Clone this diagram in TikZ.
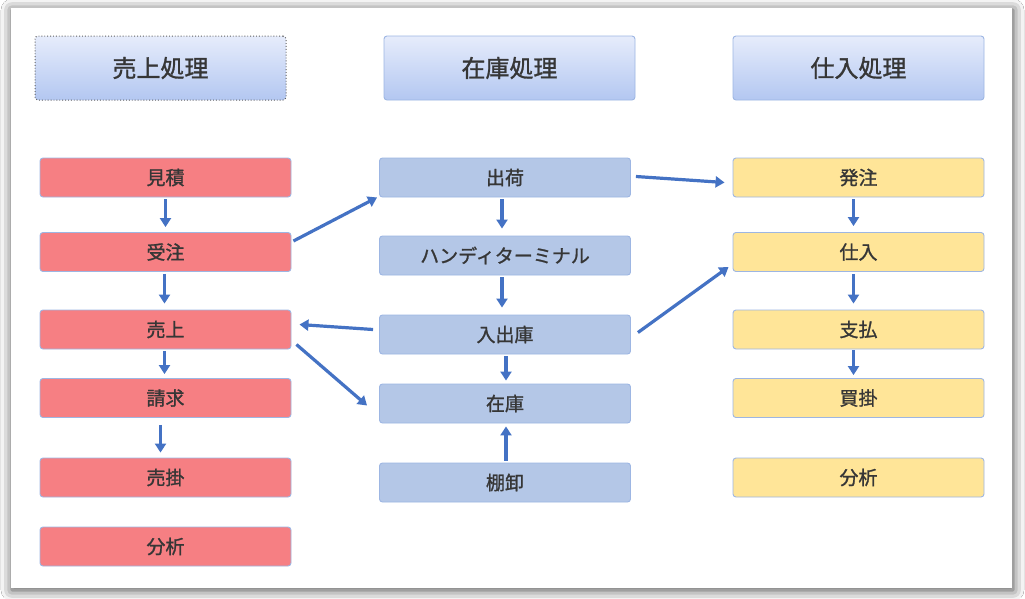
\documentclass[tikz,border=0pt]{standalone}
\usepackage{fontspec}
\setmainfont{Noto Sans CJK JP}[FakeBold=1.2]
\usetikzlibrary{arrows.meta,calc,shadows.blur}
\definecolor{redf}{HTML}{F67F83}
\definecolor{bluef}{HTML}{B4C7E7}
\definecolor{yelf}{HTML}{FFE598}
\definecolor{edge}{HTML}{9DB6E3}
\definecolor{arr}{HTML}{4472C4}
\definecolor{txt}{HTML}{363636}
\definecolor{htop}{HTML}{E6ECFB}
\definecolor{hbot}{HTML}{B3C7F1}
\tikzset{
  box/.style={draw=edge, line width=0.9pt, rounded corners=3pt, minimum width=251pt, minimum height=39pt, inner sep=0pt, text=txt, font=\fontsize{19}{21}\selectfont},
  rbox/.style={box, fill=redf},
  bbox/.style={box, fill=bluef},
  ybox/.style={box, fill=yelf},
  hbox/.style={box, minimum height=64pt, top color=htop, bottom color=hbot, font=\fontsize{24}{26}\selectfont},
  arrw/.style={draw=arr, line width=3.2pt, -{Triangle[length=9pt,width=11pt]}},
}
\begin{document}
\begin{tikzpicture}[x=1pt,y=-1pt]
\useasboundingbox (0,0) rectangle (1025,598);
\fill[white] (0,0) rectangle (1025,598);
\node[fill=white, minimum width=1001pt, minimum height=580pt, inner sep=0pt,
  blur shadow={shadow xshift=1pt, shadow yshift=-2pt, shadow blur radius=11pt, shadow opacity=75}] (panel) at (511.5,298) {};
% headers
\node[hbox, draw=txt!80, dotted, line width=1pt] (h1) at (160.5,68) {売上処理};
\node[hbox] (h2) at (509.5,68) {在庫処理};
\node[hbox] (h3) at (858.5,68) {仕入処理};
% left
\node[rbox] (mitsumori) at (165.5,177.5) {見積};
\node[rbox] (juchu) at (165.5,252) {受注};
\node[rbox] (uriage) at (165.5,329.5) {売上};
\node[rbox] (seikyu) at (165.5,398) {請求};
\node[rbox] (urikake) at (165.5,477.5) {売掛};
\node[rbox] (bunseki1) at (165.5,546.5) {分析};
% middle
\node[bbox] (shukka) at (505,177.5) {出荷};
\node[bbox] (handy) at (505,255.5) {ハンディターミナル};
\node[bbox] (nyushukko) at (505,334.5) {入出庫};
\node[bbox] (zaiko) at (505,403.5) {在庫};
\node[bbox] (tanaoroshi) at (505,482.5) {棚卸};
% right
\node[ybox] (hacchu) at (858.5,177.5) {発注};
\node[ybox] (shiire) at (858.5,252) {仕入};
\node[ybox] (shiharai) at (858.5,329.5) {支払};
\node[ybox] (kaikake) at (858.5,398) {買掛};
\node[ybox] (bunseki2) at (858.5,477.5) {分析};
% arrows left column
\draw[arrw] ($(mitsumori.south)+(0,2)$) -- ($(juchu.north)+(0,-5)$);
\draw[arrw] ($(juchu.south)+(-1,2)$) -- ($(uriage.north)+(-1,-6)$);
\draw[arrw] ($(uriage.south)+(-1,2)$) -- ($(seikyu.north)+(-1,-4)$);
\draw[arrw] ($(seikyu.south)+(-5,7)$) -- ($(urikake.north)+(-5,-5)$);
% middle column
\draw[arrw] ($(shukka.south)+(-3,2)$) -- ($(handy.north)+(-3,-7)$);
\draw[arrw] ($(handy.south)+(-3,2)$) -- ($(nyushukko.north)+(-3,-7)$);
\draw[arrw] ($(nyushukko.south)+(1,2)$) -- ($(zaiko.north)+(1,-3)$);
\draw[arrw] ($(tanaoroshi.north)+(1,-2)$) -- ($(zaiko.south)+(1,3)$);
% right column
\draw[arrw] ($(hacchu.south)+(-5,2)$) -- ($(shiire.north)+(-5,-6)$);
\draw[arrw] ($(shiire.south)+(-5,2)$) -- ($(shiharai.north)+(-5,-6)$);
\draw[arrw] ($(shiharai.south)+(-5,1)$) -- ($(kaikake.north)+(-5,-3)$);
% cross arrows
\draw[arrw] ($(juchu.east)+(2,-11)$) -- ($(shukka.south west)+(-2,0)$);
\draw[arrw] ($(shukka.east)+(5,-1)$) -- ($(hacchu.west)+(-8,5)$);
\draw[arrw] ($(nyushukko.west)+(-6,-5)$) -- ($(uriage.east)+(8,-5)$);
\draw[arrw] ($(uriage.east)+(5,15)$) -- ($(zaiko.west)+(-12,2)$);
\draw[arrw] ($(nyushukko.east)+(7,-2)$) -- ($(shiire.south west)+(-4,-5)$);
\end{tikzpicture}
\end{document}
